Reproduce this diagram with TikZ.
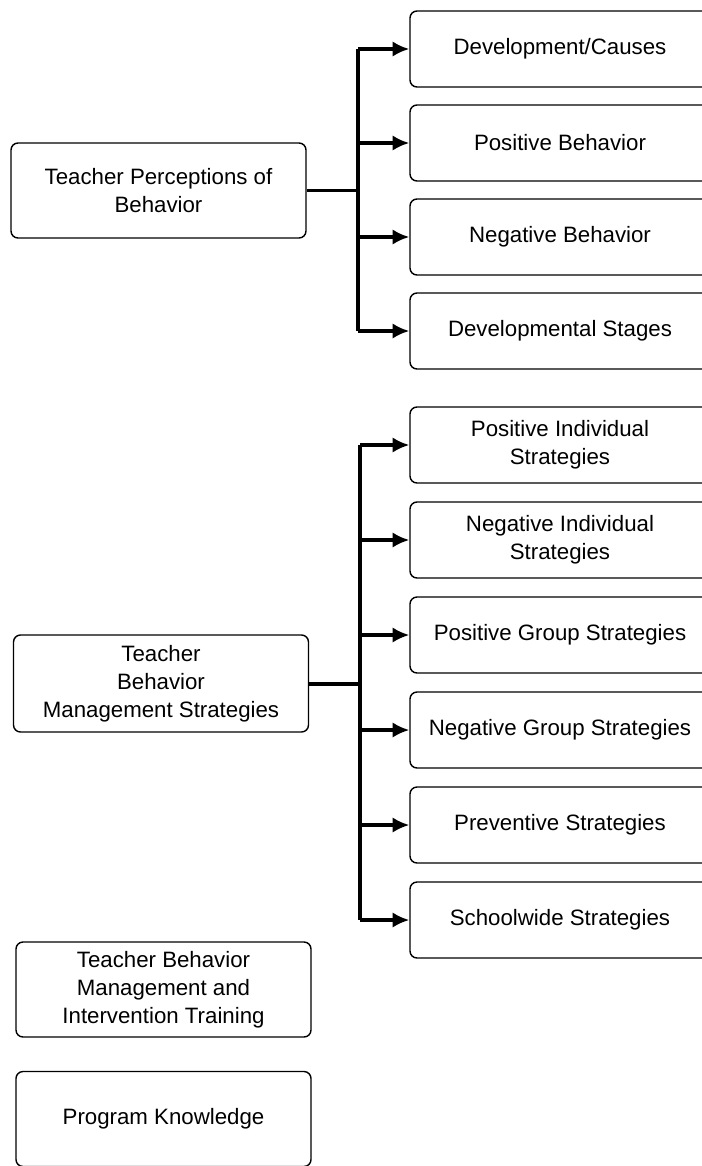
\documentclass[tikz,border=0pt]{standalone}
\usepackage{fontspec}
\setmainfont{Liberation Sans}
\usetikzlibrary{arrows.meta}

\tikzset{
	leftbox/.style={draw, line width=1.2pt, rounded corners=6pt, align=center,
		minimum width=8.85cm, minimum height=2.85cm, font=\fontsize{19}{24}\selectfont},
	rightbox/.style={draw, line width=1.2pt, rounded corners=6pt, align=center,
		minimum width=9cm, minimum height=2.28cm, font=\fontsize{19}{24}\selectfont},
	trunk/.style={line width=2.6pt},
	branch/.style={line width=2.6pt, -{Latex[length=5mm,width=4.6mm]}}
}

\begin{document}
\begin{tikzpicture}[x=0.03cm, y=-0.03cm]

\path[use as bounding box] (0,0) rectangle (702,1166);
\clip (0,0) rectangle (702,1166);

\node[leftbox] (tpb) at (158.5, 190.5) {Teacher Perceptions of\\Behavior};
\node[leftbox, minimum height=2.91cm] (tbms) at (161, 683.5) {Teacher\\Behavior\\Management Strategies};
\node[leftbox] (tbmit) at (163.5, 989.5) {Teacher Behavior\\Management and\\Intervention Training};
\node[leftbox] (pk) at (163.5, 1119) {Program Knowledge};

\foreach \i/\v in {0/{Development/Causes}, 1/Positive Behavior, 2/Negative Behavior, 3/Developmental Stages}
{
	\node[rightbox] (p\i) at (560, 49 + 94*\i) {\v};
}

\foreach \i/\v in {0/{Positive Individual\\Strategies}, 1/{Negative Individual\\Strategies}, 2/Positive Group Strategies,
	3/Negative Group Strategies, 4/Preventive Strategies, 5/Schoolwide Strategies}
{
	\node[rightbox] (s\i) at (560, 445 + 95*\i) {\v};
}

\coordinate (ja) at (358, 190.5);
\draw[trunk] (tpb.east) -- (ja);
\draw[trunk] (ja |- p0) -- (ja |- p3);
\foreach \i in {0,...,3}
	\draw[branch] (ja |- p\i) -- (p\i.west);

\coordinate (jb) at (360, 683.5);
\draw[trunk, line width=3.4pt] (tbms.east) -- (jb);
\draw[trunk] (jb |- s0) -- (jb |- s5);
\foreach \i in {0,...,5}
	\draw[branch] (jb |- s\i) -- (s\i.west);

\end{tikzpicture}
\end{document}
